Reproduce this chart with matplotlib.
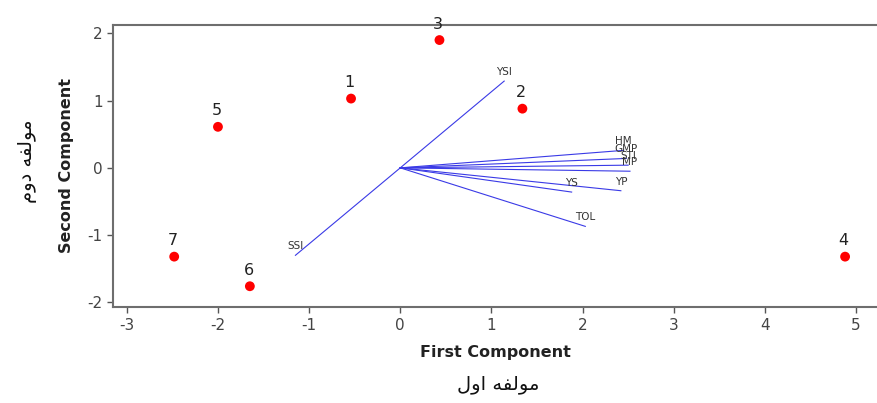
import matplotlib
matplotlib.use("Agg")
import matplotlib.pyplot as plt

# --- genotype scores (first / second component) ---
genotypes = ["1", "2", "3", "4", "5", "6", "7"]
pc1_scores = [-0.54, 1.34, 0.43, 4.88, -2.00, -1.65, -2.48]
pc2_scores = [1.03, 0.88, 1.90, -1.32, 0.61, -1.76, -1.32]

# --- index loadings (vectors from origin) ---
indices = ["HM", "GMP", "STI", "MP", "YP", "YS", "TOL", "YSI", "SSI"]
pc1_load = [2.45, 2.48, 2.50, 2.52, 2.42, 1.88, 2.03, 1.14, -1.15]
pc2_load = [0.26, 0.14, 0.04, -0.05, -0.34, -0.36, -0.87, 1.29, -1.30]

xticks = [-3, -2, -1, 0, 1, 2, 3, 4, 5]
yticks = [-2, -1, 0, 1, 2]

# Persian labels, pre-shaped (presentation forms, visual order)
x_fa = "\uFEDD\uFEED\uFE8D \uFEEA\uFED4\uFEDF\uFEEE\uFEE3"   # مولفه اول
y_fa = "\uFEE1\uFEED\uFEA9 \uFEEA\uFED4\uFEDF\uFEEE\uFEE3"   # مولفه دوم

plt.rcParams['font.family'] = ['DejaVu Sans']
plt.rcParams['axes.unicode_minus'] = False

fig = plt.figure(figsize=(8.77, 4.03), dpi=100)
ax = fig.add_axes([0.129, 0.238, 0.871, 0.701])

# vectors
for name, vx, vy in zip(indices, pc1_load, pc2_load):
    ax.plot([0, vx], [0, vy], color='#3a3ae6', lw=0.8, zorder=2)
    ax.annotate(name, (vx, vy), xytext=(0, 3), textcoords='offset points',
                ha='center', va='bottom', fontsize=7.5, color='#333333')

# genotype points
ax.scatter(pc1_scores, pc2_scores, s=50, color='#ff0000', zorder=3, edgecolors='none')
for g, x, y in zip(genotypes, pc1_scores, pc2_scores):
    ax.annotate(g, (x, y), xytext=(-1, 6), textcoords='offset points',
                ha='center', va='bottom', fontsize=11.5, color='#222222',
                annotation_clip=False)

ax.set_xlim(-3.15, 5.23)
ax.set_ylim(-2.07, 2.13)
ax.set_xticks(xticks)
ax.set_yticks(yticks)
ax.tick_params(colors='#555555', labelcolor='#444444', labelsize=11, length=4, width=1)

for s in ['left', 'bottom', 'top']:
    ax.spines[s].set_color('#6e6e6e')
    ax.spines[s].set_linewidth(1.5)
ax.spines['right'].set_visible(False)

ax.set_xlabel('First Component', fontsize=11.5, fontweight='bold', color='#222222', labelpad=9)
ax.set_ylabel('Second Component', fontsize=11.5, fontweight='bold', color='#222222', labelpad=10)

fig.text(0.568, 0.045, x_fa, ha='center', va='center', fontsize=14, color='#111111')
fig.text(0.031, 0.6, y_fa, ha='center', va='center', rotation=90, fontsize=14, color='#111111')

fig.savefig('out.png', dpi=100)
